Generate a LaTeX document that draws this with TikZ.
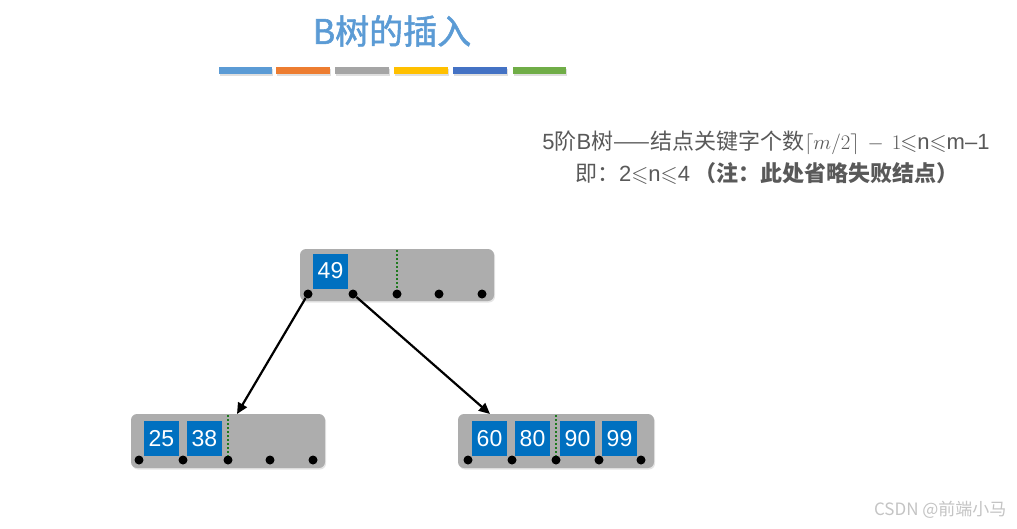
\documentclass[tikz,border=0pt]{standalone}
\usepackage{amssymb}
\usepackage{fontspec}
\setmainfont{Liberation Sans}
\newfontfamily\cjk{Noto Sans CJK SC}
\newfontfamily\cjkmed[FakeBold=1.6]{Noto Sans CJK SC}
\newfontfamily\latf{Liberation Sans}
\newcommand{\lat}[1]{{\latf #1}}
\usetikzlibrary{arrows.meta,shadows}
\definecolor{ttlblue}{HTML}{5B9BD5}
\definecolor{barA}{HTML}{5B9BD5}
\definecolor{barB}{HTML}{ED7D31}
\definecolor{barC}{HTML}{A5A5A5}
\definecolor{barD}{HTML}{FFC000}
\definecolor{barE}{HTML}{4472C4}
\definecolor{barF}{HTML}{70AD47}
\definecolor{nodegray}{HTML}{ADADAD}
\definecolor{keyblue}{HTML}{0070C0}
\definecolor{txtgray}{HTML}{595959}
\definecolor{dotgreen}{HTML}{1F7A1F}
\definecolor{wm}{HTML}{C4C4C4}
\begin{document}
\begin{tikzpicture}[x=1pt,y=-1pt,
  bar/.style={draw=none, drop shadow={shadow xshift=1pt,shadow yshift=-2pt,opacity=0.25}},
  bnode/.style={fill=nodegray, draw=none, rounded corners=6pt, drop shadow={shadow xshift=1pt,shadow yshift=-1.5pt,opacity=0.2}},
  keybox/.style={fill=keyblue, draw=none, text=white, minimum width=35pt, minimum height=35pt, inner sep=0pt, font=\latf\fontsize{23}{23}\selectfont},
  ptr/.style={circle, fill=black, minimum size=9pt, inner sep=0pt},
  split/.style={draw=dotgreen, line width=2.4pt, dash pattern=on 2pt off 2pt},
  link/.style={draw=black, line width=2.2pt, -{Triangle[length=11pt,width=10pt]}}
]
\useasboundingbox[fill=white] (0,0) rectangle (1017,528);

% title
\node[text=ttlblue, font=\cjkmed\fontsize{34}{34}\selectfont] (title) at (392,31) {B树的插入};

% bars
\fill[barA,bar] (219,67) rectangle (272,74);
\fill[barB,bar] (276,67) rectangle (330,74);
\fill[barC,bar] (335,67) rectangle (389,74);
\fill[barD,bar] (394,67) rectangle (448,74);
\fill[barE,bar] (453,67) rectangle (507,74);
\fill[barF,bar] (513,67) rectangle (566,74);

% description
\node[text=txtgray, font=\cjk\fontsize{22}{22}\selectfont] (desc1) at (766,143)
  {\lat{5}阶\lat{B}树——结点关键字个数$\lceil m/2\rceil\,-\,1$\kern-1pt$\leqslant$\lat{n}$\leqslant$\lat{m–1}};
\node[text=txtgray, font=\cjk\fontsize{22}{22}\selectfont] (desc2) at (767,174)
  {即：\lat{2}$\leqslant$\lat{n}$\leqslant$\lat{4} \textbf{（注：此处省略失败结点）}};

% root node
\path[bnode] (300,249) rectangle (494,301);
\node[keybox] (k49) at (330.5,271) {49};
\node[ptr] (r0) at (308,294) {};
\node[ptr] (r1) at (353,294) {};
\node[ptr] (r2) at (397,294) {};
\node[ptr] (r3) at (439,294) {};
\node[ptr] (r4) at (482,294) {};
\coordinate (rs) at (397,250);
\draw[split] (rs) -- (r2);

% left child
\path[bnode] (131,414) rectangle (325,468);
\node[keybox] (k25) at (161.5,438.5) {25};
\node[keybox] (k38) at (204.5,438.5) {38};
\node[ptr] (a0) at (139,460) {};
\node[ptr] (a1) at (183,460) {};
\node[ptr] (a2) at (228,460) {};
\node[ptr] (a3) at (270,460) {};
\node[ptr] (a4) at (313,460) {};
\coordinate (as) at (228,415);
\draw[split] (as) -- (a2);

% right child
\path[bnode] (458,414) rectangle (654,468);
\node[keybox] (k60) at (489.5,438.5) {60};
\node[keybox] (k80) at (532.5,438.5) {80};
\node[keybox] (k90) at (577.5,438.5) {90};
\node[keybox] (k99) at (619.5,438.5) {99};
\node[ptr] (b0) at (468,460) {};
\node[ptr] (b1) at (512,460) {};
\node[ptr] (b2) at (556,460) {};
\node[ptr] (b3) at (599,460) {};
\node[ptr] (b4) at (641,460) {};
\coordinate (bs) at (556,415);
\draw[split] (bs) -- (b2);

% links
\coordinate (lt) at (237,414);
\coordinate (rt) at (490,414);
\draw[link] (r0) -- (lt);
\draw[link] (r1) -- (rt);

% watermark
\node[text=wm, font=\cjk\fontsize{17}{17}\selectfont, anchor=east] (mark) at (1010,510) {CSDN @前端小马};
\end{tikzpicture}
\end{document}
